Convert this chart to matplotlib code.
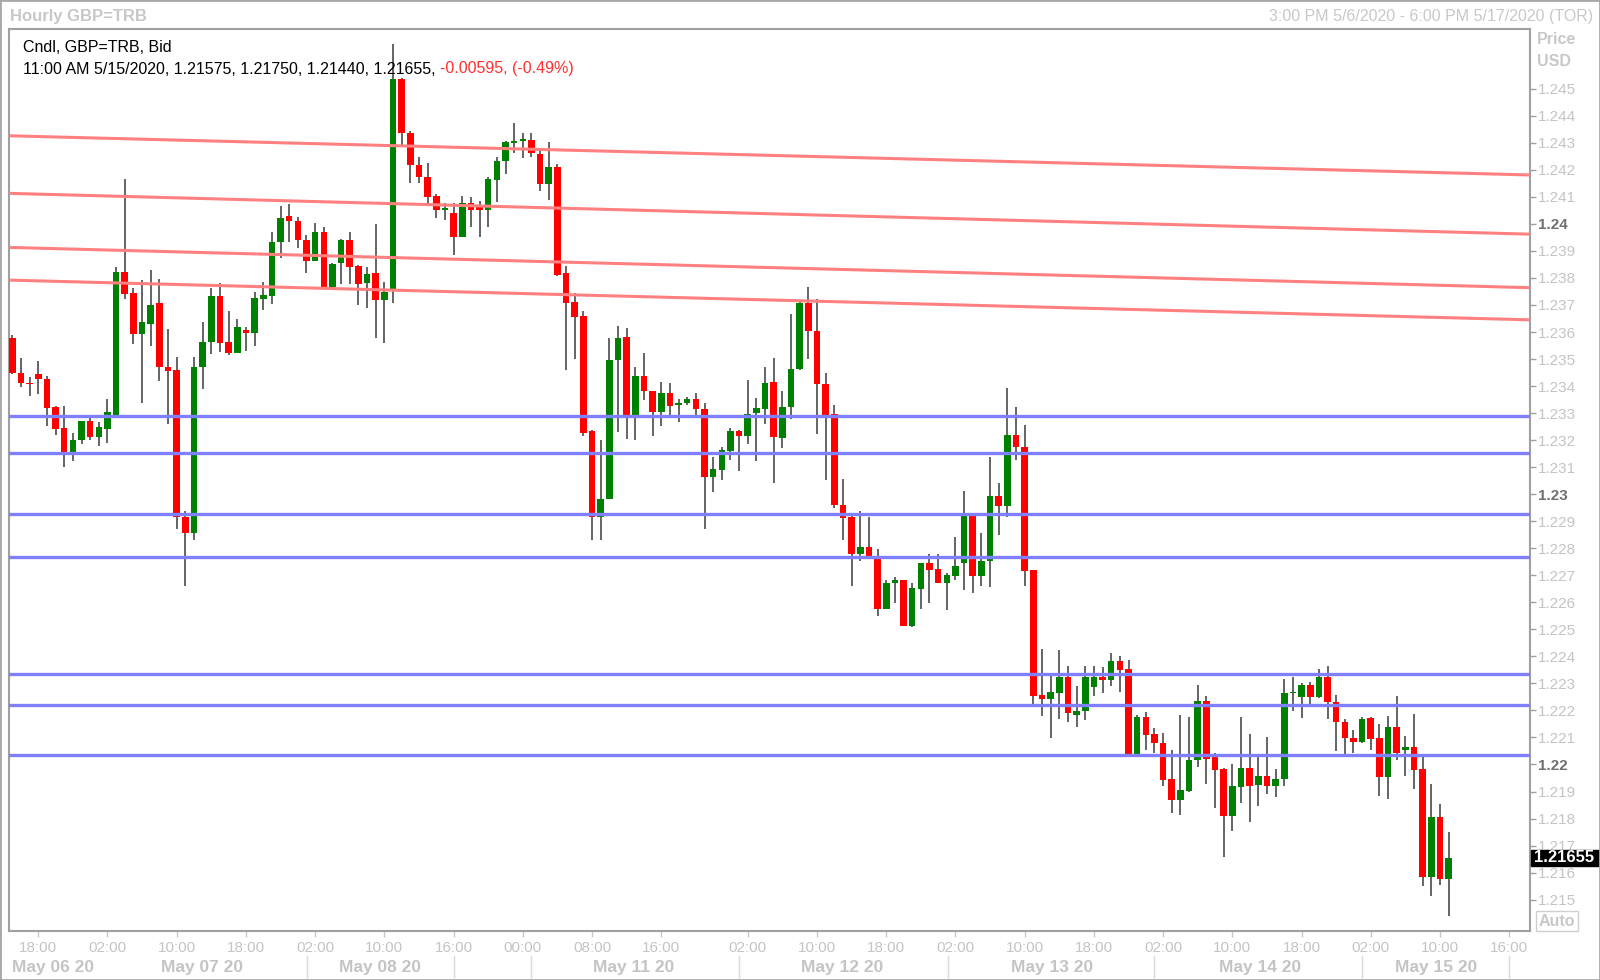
import numpy as np
import matplotlib.pyplot as plt
from matplotlib.patches import Rectangle
from matplotlib.lines import Line2D
from matplotlib import transforms

plt.rcParams['font.family'] = ['Liberation Sans', 'DejaVu Sans']

# hourly GBP=TRB candles, 3:00 PM 5/6/2020 .. 11:00 AM 5/15/2020 (TOR)
opens = [1.23577, 1.23448, 1.23413, 1.23444, 1.23427, 1.23322, 1.23244, 1.23154, 1.23199, 1.23269,
         1.23211, 1.23243, 1.23294, 1.23821, 1.23744, 1.23591, 1.23629, 1.23707, 1.23472, 1.23458,
         1.22915, 1.22855, 1.23471, 1.23562, 1.23734, 1.23564, 1.23524, 1.23606, 1.23596, 1.23722,
         1.23735, 1.23934, 1.24030, 1.24011, 1.23941, 1.23861, 1.23970, 1.23765, 1.23855, 1.23941,
         1.23843, 1.23781, 1.23818, 1.23717, 1.23750, 1.24535, 1.24338, 1.24219, 1.24172, 1.24104,
         1.24052, 1.24042, 1.23953, 1.24079, 1.24061, 1.24052, 1.24161, 1.24231, 1.24301, 1.24307,
         1.24311, 1.24258, 1.24147, 1.24212, 1.23818, 1.23712, 1.23660, 1.23234, 1.22915, 1.22982,
         1.23495, 1.23581, 1.23291, 1.23438, 1.23380, 1.23303, 1.23374, 1.23331, 1.23337, 1.23353,
         1.23315, 1.23062, 1.23090, 1.23160, 1.23232, 1.23217, 1.23300, 1.23315, 1.23414, 1.23207,
         1.23321, 1.23463, 1.23709, 1.23602, 1.23407, 1.23297, 1.22961, 1.22914, 1.22778, 1.22806,
         1.22763, 1.22575, 1.22671, 1.22683, 1.22514, 1.22649, 1.22745, 1.22723, 1.22673, 1.22698,
         1.22745, 1.22921, 1.22698, 1.22753, 1.22994, 1.22957, 1.23220, 1.23176, 1.22718, 1.22258,
         1.22242, 1.22266, 1.22325, 1.22184, 1.22199, 1.22286, 1.22325, 1.22311, 1.22383, 1.22352,
         1.22039, 1.22175, 1.22112, 1.22079, 1.21946, 1.21869, 1.21902, 1.22015, 1.22235, 1.22029,
         1.21983, 1.21811, 1.21918, 1.21986, 1.21925, 1.21959, 1.21921, 1.21946, 1.22264, 1.22251,
         1.22295, 1.22251, 1.22325, 1.22230, 1.22156, 1.22099, 1.22085, 1.22171, 1.22097, 1.21952,
         1.22140, 1.22052, 1.22066, 1.21983, 1.21585, 1.21807, 1.21575]
highs = [1.23590, 1.23503, 1.23433, 1.23492, 1.23438, 1.23327, 1.23328, 1.23226, 1.23272, 1.23284,
         1.23267, 1.23353, 1.23840, 1.24167, 1.23762, 1.23793, 1.23830, 1.23797, 1.23612, 1.23507,
         1.22936, 1.23507, 1.23636, 1.23762, 1.23781, 1.23676, 1.23649, 1.23617, 1.23747, 1.23785,
         1.23971, 1.24068, 1.24074, 1.24024, 1.23960, 1.24002, 1.23987, 1.23855, 1.23945, 1.23971,
         1.23849, 1.23840, 1.24000, 1.23785, 1.24666, 1.24539, 1.24342, 1.24247, 1.24227, 1.24111,
         1.24077, 1.24077, 1.24105, 1.24101, 1.24083, 1.24175, 1.24249, 1.24307, 1.24373, 1.24338,
         1.24336, 1.24280, 1.24302, 1.24221, 1.23845, 1.23746, 1.23676, 1.23238, 1.23201, 1.23577,
         1.23624, 1.23614, 1.23469, 1.23522, 1.23380, 1.23414, 1.23413, 1.23353, 1.23358, 1.23374,
         1.23337, 1.23139, 1.23174, 1.23244, 1.23238, 1.23423, 1.23355, 1.23472, 1.23503, 1.23380,
         1.23667, 1.23719, 1.23768, 1.23721, 1.23448, 1.23331, 1.23056, 1.22924, 1.22938, 1.22917,
         1.22797, 1.22683, 1.22695, 1.22683, 1.22671, 1.22747, 1.22779, 1.22779, 1.22710, 1.22841,
         1.23012, 1.22921, 1.22856, 1.23137, 1.23043, 1.23392, 1.23322, 1.23257, 1.22718, 1.22427,
         1.22326, 1.22422, 1.22366, 1.22292, 1.22366, 1.22365, 1.22362, 1.22412, 1.22402, 1.22387,
         1.22184, 1.22196, 1.22134, 1.22116, 1.22054, 1.22184, 1.22175, 1.22295, 1.22254, 1.22042,
         1.21986, 1.22002, 1.22175, 1.22112, 1.22029, 1.22101, 1.21983, 1.22315, 1.22325, 1.22303,
         1.22307, 1.22352, 1.22365, 1.22258, 1.22169, 1.22126, 1.22175, 1.22174, 1.22150, 1.22181,
         1.22254, 1.22107, 1.22187, 1.22027, 1.21927, 1.21853, 1.21750]
lows = [1.23445, 1.23395, 1.23365, 1.23371, 1.23254, 1.23220, 1.23099, 1.23121, 1.23185, 1.23201,
        1.23180, 1.23191, 1.23290, 1.23721, 1.23555, 1.23339, 1.23550, 1.23420, 1.23259, 1.22871,
        1.22661, 1.22831, 1.23389, 1.23518, 1.23526, 1.23516, 1.23524, 1.23528, 1.23550, 1.23682,
        1.23705, 1.23872, 1.23933, 1.23910, 1.23820, 1.23861, 1.23762, 1.23762, 1.23778, 1.23778,
        1.23699, 1.23688, 1.23577, 1.23561, 1.23709, 1.24289, 1.24153, 1.24151, 1.24071, 1.24021,
        1.24015, 1.23886, 1.23953, 1.23990, 1.23951, 1.23990, 1.24081, 1.24184, 1.24262, 1.24243,
        1.24249, 1.24122, 1.24089, 1.23806, 1.23460, 1.23501, 1.23216, 1.22831, 1.22831, 1.22982,
        1.23230, 1.23205, 1.23199, 1.23349, 1.23217, 1.23254, 1.23291, 1.23266, 1.23331, 1.23281,
        1.22872, 1.23008, 1.23051, 1.23125, 1.23086, 1.23185, 1.23121, 1.23259, 1.23041, 1.23170,
        1.23278, 1.23460, 1.23501, 1.23223, 1.23051, 1.22948, 1.22829, 1.22662, 1.22751, 1.22770,
        1.22551, 1.22575, 1.22597, 1.22514, 1.22510, 1.22575, 1.22599, 1.22671, 1.22572, 1.22681,
        1.22646, 1.22636, 1.22661, 1.22656, 1.22850, 1.22915, 1.23125, 1.22659, 1.22221, 1.22180,
        1.22097, 1.22169, 1.22156, 1.22138, 1.22165, 1.22254, 1.22266, 1.22292, 1.22267, 1.22039,
        1.22039, 1.22054, 1.22042, 1.21922, 1.21820, 1.21814, 1.21897, 1.21990, 1.21928, 1.21838,
        1.21656, 1.21754, 1.21857, 1.21787, 1.21847, 1.21890, 1.21881, 1.21921, 1.22198, 1.22171,
        1.22224, 1.22245, 1.22168, 1.22050, 1.22027, 1.22044, 1.22079, 1.22054, 1.21884, 1.21872,
        1.22015, 1.21958, 1.21909, 1.21552, 1.21512, 1.21555, 1.21440]
closes = [1.23450, 1.23411, 1.23407, 1.23426, 1.23318, 1.23241, 1.23154, 1.23201, 1.23269, 1.23210,
          1.23247, 1.23303, 1.23821, 1.23741, 1.23591, 1.23636, 1.23701, 1.23472, 1.23456, 1.22915,
          1.22855, 1.23471, 1.23562, 1.23734, 1.23561, 1.23524, 1.23617, 1.23598, 1.23725, 1.23738,
          1.23934, 1.24021, 1.24010, 1.23939, 1.23861, 1.23970, 1.23765, 1.23852, 1.23941, 1.23840,
          1.23778, 1.23815, 1.23717, 1.23748, 1.24535, 1.24338, 1.24219, 1.24172, 1.24101, 1.24052,
          1.24056, 1.23951, 1.24077, 1.24052, 1.24052, 1.24166, 1.24233, 1.24302, 1.24303, 1.24314,
          1.24262, 1.24147, 1.24212, 1.23812, 1.23709, 1.23657, 1.23228, 1.22915, 1.22982, 1.23497,
          1.23577, 1.23291, 1.23438, 1.23380, 1.23303, 1.23374, 1.23328, 1.23337, 1.23353, 1.23316,
          1.23062, 1.23093, 1.23162, 1.23232, 1.23217, 1.23297, 1.23318, 1.23411, 1.23211, 1.23321,
          1.23463, 1.23709, 1.23602, 1.23407, 1.23294, 1.22960, 1.22911, 1.22778, 1.22806, 1.22773,
          1.22575, 1.22673, 1.22683, 1.22514, 1.22652, 1.22745, 1.22720, 1.22673, 1.22702, 1.22736,
          1.22921, 1.22698, 1.22753, 1.22994, 1.22957, 1.23220, 1.23174, 1.22716, 1.22255, 1.22242,
          1.22270, 1.22325, 1.22192, 1.22199, 1.22325, 1.22325, 1.22311, 1.22383, 1.22350, 1.22039,
          1.22175, 1.22110, 1.22079, 1.21943, 1.21869, 1.21906, 1.22017, 1.22235, 1.22020, 1.21980,
          1.21811, 1.21922, 1.21986, 1.21921, 1.21959, 1.21921, 1.21946, 1.22264, 1.22270, 1.22295,
          1.22251, 1.22325, 1.22230, 1.22156, 1.22099, 1.22085, 1.22168, 1.22095, 1.21952, 1.22140,
          1.22044, 1.22066, 1.21980, 1.21585, 1.21807, 1.21575, 1.21655]

# drawn trend lines (red, value at left / right edge) and flat levels (blue)
red_start = [1.24326, 1.24113, 1.23913, 1.23792]
red_end = [1.24181, 1.23962, 1.23764, 1.23645]
blue_levels = [1.23288, 1.23152, 1.22926, 1.22767, 1.22333, 1.22220, 1.22035]

# time axis: candle number of each label
tick_labels = ['18:00', '02:00', '10:00', '18:00', '02:00', '10:00', '16:00', '00:00', '08:00',
               '16:00', '02:00', '10:00', '18:00', '02:00', '10:00', '18:00', '02:00', '10:00',
               '18:00', '02:00', '10:00', '16:00']
tick_candles = [4, 12, 20, 28, 36, 44, 52, 60, 68, 76, 86, 94, 102, 110, 118, 126, 134, 142,
                150, 158, 166, 174]
day_labels = ['May 06 20', 'May 07 20', 'May 08 20', 'May 11 20', 'May 12 20', 'May 13 20',
              'May 14 20', 'May 15 20']
day_centers = [5.7, 22.9, 43.5, 72.8, 96.9, 121.2, 145.2, 165.6]
day_breaks = [35.1, 52, 60.9, 85, 109.1, 133, 157, 174]

W, H = 1600, 980


def fx(px):
    return px / W


def fy(py):
    return 1 - py / H


fig = plt.figure(figsize=(16, 9.8), dpi=100)
ax = fig.add_axes([fx(9), fy(931), fx(1530) - fx(9), fy(29) - fy(931)])

o = np.array(opens)
h = np.array(highs)
l = np.array(lows)
c = np.array(closes)
x = np.arange(1, len(o) + 1)
up = c >= o
body_lo = np.minimum(o, c)
body_h = np.maximum(np.abs(c - o), 0.00005)

ax.vlines(x, l, h, color='#3a3a3a', lw=1.1, zorder=2)
ax.bar(x[up], body_h[up], bottom=body_lo[up], width=0.76, color='#008000', zorder=3)
ax.bar(x[~up], body_h[~up], bottom=body_lo[~up], width=0.76, color='#ff0000', zorder=3)

x0, x1 = 0.62, 176.4
for a, b in zip(red_start, red_end):
    ax.plot([x0, x1], [a, b], color='#ff8080', lw=2.2, zorder=4, solid_capstyle='butt')
for lev in blue_levels:
    ax.axhline(lev, color='#8080ff', lw=2.4, zorder=4)

ax.set_xlim(x0, x1)
ax.set_ylim(1.21384, 1.24721)

# price axis on the right
yt = np.round(np.arange(1.215, 1.2451, 0.001), 3)
ax.yaxis.tick_right()
ax.set_yticks(yt)
ax.set_yticklabels([f'{v:g}' for v in yt])
ax.tick_params(axis='y', length=4, width=1, color='#a0a0a0', pad=2, labelsize=11,
               labelcolor='#c4c4c4')
for lab, v in zip(ax.get_yticklabels(), yt):
    if abs(v * 100 - round(v * 100)) < 1e-6:
        lab.set_fontweight('bold')
        lab.set_color('#707070')

ax.set_xticks(tick_candles)
ax.set_xticklabels(tick_labels)
ax.tick_params(axis='x', length=4, width=1, color='#c8c8c8', pad=3, labelsize=11,
               labelcolor='#c4c4c4')

for s in ax.spines.values():
    s.set_color('#a0a0a0')
    s.set_linewidth(1.5)

bt = transforms.blended_transform_factory(ax.transData, fig.transFigure)
for lab, p in zip(day_labels, day_centers):
    ax.text(p, fy(967), lab, transform=bt, ha='center', va='center', fontsize=12.5,
            fontweight='bold', color='#c4c4c4', clip_on=False)
for s in day_breaks:
    fig.add_artist(Line2D([s, s], [fy(956), fy(977)], transform=bt, color='#d8d8d8', lw=1))

# last price marker
by = transforms.blended_transform_factory(ax.transAxes, ax.transData)
last = closes[-1]
ax.add_patch(Rectangle((1.0008, last - 0.00029), 0.0445, 0.00058, transform=by,
                       color='black', clip_on=False, zorder=10))
ax.text(1.0025, last, f'{last:.5f}', transform=by, color='white', fontweight='bold',
        fontsize=12, va='center', ha='left', zorder=11, clip_on=False)

# headers and legend
fig.text(fx(10), fy(17), 'Hourly GBP=TRB', fontsize=12, fontweight='bold', color='#c8c8c8',
         va='center')
fig.text(fx(1593), fy(16), '3:00 PM 5/6/2020 - 6:00 PM 5/17/2020 (TOR)', ha='right',
         va='center', fontsize=11.5, color='#c8c8c8')
fig.text(fx(1537), fy(40), 'Price', fontsize=11.5, fontweight='bold', color='#c8c8c8', va='center')
fig.text(fx(1537), fy(61), 'USD', fontsize=11.5, fontweight='bold', color='#c8c8c8', va='center')
fig.text(fx(1557), fy(921), 'Auto', ha='center', va='center', fontsize=11.5, fontweight='bold',
         color='#c8c8c8',
         bbox=dict(boxstyle='square,pad=0.15', fc='white', ec='#d0d0d0', lw=1))

fig.text(fx(23), fy(48), 'Cndl, GBP=TRB, Bid', va='center', fontsize=11.5, color='black')
t = fig.text(fx(23), fy(69), '11:00 AM 5/15/2020, 1.21575, 1.21750, 1.21440, 1.21655, ',
             va='center', fontsize=11.5, color='black')
ax.annotate('-0.00595, (-0.49%)', xy=(1, 0), xycoords=t, va='bottom', ha='left',
            fontsize=11.5, color='#ff3030', annotation_clip=False)

fig.add_artist(Rectangle((0, 0), 1, 1, transform=fig.transFigure, fill=False,
                         ec='#a8a8a8', lw=2))

fig.savefig('out.png', dpi=100)
